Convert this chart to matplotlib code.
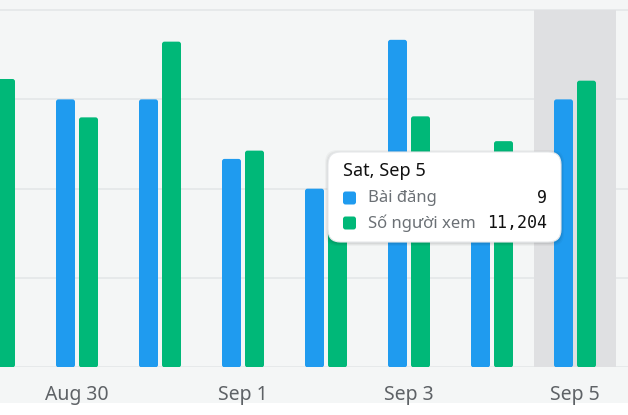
import matplotlib.pyplot as plt
import numpy as np
from matplotlib.patches import FancyBboxPatch, Rectangle

# Data
days = ['Aug 29', 'Aug 30', 'Aug 31', 'Sep 1', 'Sep 2', 'Sep 3', 'Sep 4', 'Sep 5']
posts = [9, 9, 9, 7, 6, 11, 6, 9]                                   # Bài đăng
views = [11270, 9770, 12730, 8470, 7000, 9810, 8840, 11204]          # Số người xem
tick_days = ['Aug 30', 'Sep 1', 'Sep 3', 'Sep 5']

blue = '#1f9bef'
green = '#00b878'
bg = '#f4f6f6'

W, H = 628, 415
fig = plt.figure(figsize=(W / 100, H / 100), dpi=100, facecolor=bg)
fig.add_artist(Rectangle((0, 0), 1, 12 / H, transform=fig.transFigure,
                         facecolor='white', edgecolor='none', zorder=0))

base = 367.3
ax = fig.add_axes([0, (H - base) / H, 1, base / H])
ax.set_facecolor(bg)

x = np.arange(len(days))
day_px = 83.0
ax.set_xlim(6 / day_px, (W + 6) / day_px)
off = 11.5 / day_px
w = 19 / day_px

ymax_posts = base / 29.77
ax.set_ylim(0, ymax_posts)
ax.set_yticks([0, 3, 6, 9, 12])
ax.yaxis.grid(True, color='#e4e7e8', linewidth=1.2)
ax.set_axisbelow(True)

# highlight for Sep 5
hl = days.index('Sep 5')
ax.axvspan(hl - 0.494, hl + 0.494, ymin=0, ymax=12 / ymax_posts,
           color='#dfe0e2', zorder=0.8, linewidth=0)

ax2 = ax.twinx()
ymax_views = base * 39.09
ax2.set_ylim(0, ymax_views)


def rounded_bars(a, xs, vals, color, unit_per_px):
    r = 2.5 / day_px
    bars = a.bar(xs, vals, width=w, color=color)
    for b in bars:
        b.set_visible(False)
        p = FancyBboxPatch((b.get_x(), 0), b.get_width(), b.get_height(),
                           boxstyle=f'round,pad=0,rounding_size={r}',
                           mutation_aspect=unit_per_px * day_px,
                           facecolor=color, edgecolor='none', zorder=2)
        a.add_patch(p)


rounded_bars(ax, x - off, posts, blue, 1 / 29.77)
rounded_bars(ax2, x + off, views, green, 39.09)

for a in (ax, ax2):
    for s in a.spines.values():
        s.set_visible(False)
    a.tick_params(left=False, right=False, labelleft=False, labelright=False,
                  bottom=False)
ax2.set_xticks([])

ax.set_xticks([days.index(d) for d in tick_days])
ax.set_xticklabels(tick_days, fontsize=14, color='#5e6266',
                   family=['Noto Sans', 'DejaVu Sans'])
ax.tick_params(axis='x', pad=9)


# tooltip
def fx(px):
    return px / W


def fy(py):
    return 1 - py / H


bx0, by0, bx1, by1 = 328, 152, 561, 242
for i, alpha in enumerate([0.05, 0.04, 0.03]):
    d = i + 1
    fig.add_artist(FancyBboxPatch((fx(bx0 - d), fy(by1 + d + 1)),
                                  fx(bx1 - bx0 + 2 * d), (by1 - by0 + 2 * d) / H,
                                  boxstyle='round,pad=0,rounding_size=0.02',
                                  transform=fig.transFigure, facecolor='black',
                                  edgecolor='none', alpha=alpha, zorder=5,
                                  mutation_aspect=W / H))
fig.add_artist(FancyBboxPatch((fx(bx0), fy(by1)), fx(bx1 - bx0), (by1 - by0) / H,
                              boxstyle='round,pad=0,rounding_size=0.02',
                              transform=fig.transFigure, facecolor='white',
                              edgecolor='#e6e8ea', linewidth=0.8, zorder=6,
                              mutation_aspect=W / H))

txt = ['Noto Sans', 'DejaVu Sans']
fig.text(fx(343), fy(171), 'Sat, Sep 5', fontsize=13, color='#111111',
         family=txt, va='center', ha='left', zorder=7)
rows = [('Bài đăng', '9', blue, 198), ('Số người xem', '11,204', green, 223)]
for label, val, col, yy in rows:
    fig.add_artist(FancyBboxPatch((fx(343), fy(yy + 6.5)), fx(13), 13 / H,
                                  boxstyle='round,pad=0,rounding_size=0.004',
                                  transform=fig.transFigure, facecolor=col,
                                  edgecolor='none', zorder=7, mutation_aspect=W / H))
    fig.text(fx(368), fy(yy), label, fontsize=12, color='#6b7075',
             family=txt, va='center', ha='left', zorder=7)
    fig.text(fx(547), fy(yy), val, fontsize=12, color='#111111',
             family='DejaVu Sans Mono', va='center', ha='right', zorder=7)

fig.savefig('out.png', dpi=100, facecolor=fig.get_facecolor())
